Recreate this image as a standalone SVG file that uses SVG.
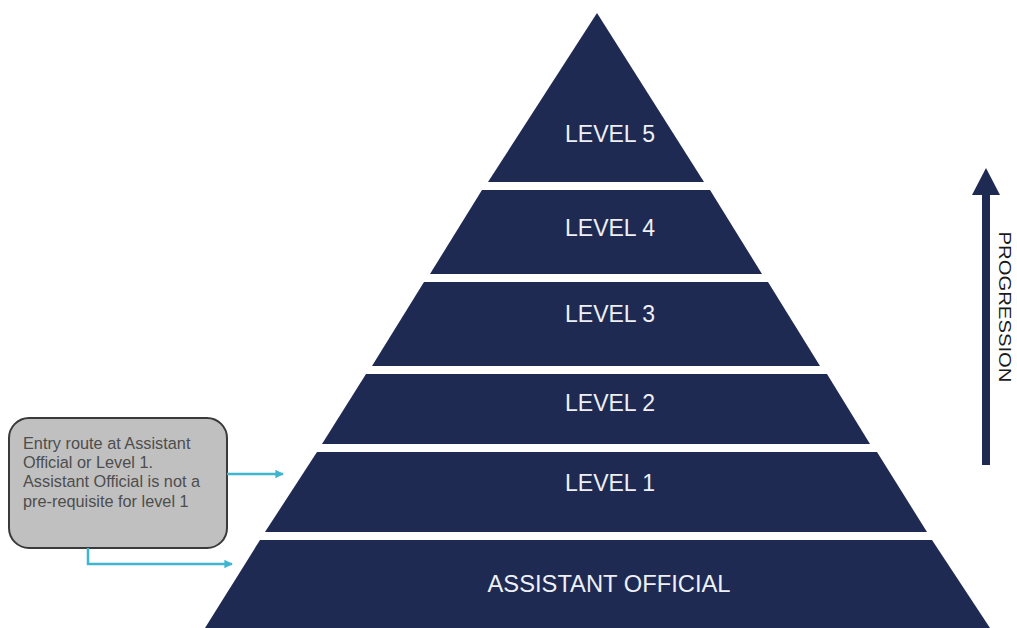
<svg xmlns="http://www.w3.org/2000/svg" width="1017" height="628" viewBox="0 0 1017 628">
  <defs>
    <style>
      .band { fill: #1f2a53; }
      .lbl { font-family: "Liberation Sans", Arial, sans-serif; font-size: 23px; fill: #eef0f5; text-anchor: middle; }
      .note { font-family: "Liberation Sans", Arial, sans-serif; font-size: 16.3px; fill: #4d4d4d; }
      .conn { fill: none; stroke: #3fb6cf; stroke-width: 2.5; }
    </style>
    <marker id="cyanHead" viewBox="0 0 10 10" refX="9" refY="5" markerWidth="3.4" markerHeight="3.4" orient="auto" markerUnits="strokeWidth">
      <path d="M0,0 L10,5 L0,10 Z" fill="#3fb6cf"/>
    </marker>
  </defs>
  <rect width="1017" height="628" fill="#ffffff"/>

  <g id="level5">
    <polygon class="band" points="597,13 704,182 488,182"/>
    <text class="lbl" x="610" y="141.5">LEVEL 5</text>
  </g>
  <g id="level4">
    <polygon class="band" points="482,190 710,190 762,274 430,274"/>
    <text class="lbl" x="610" y="235.5">LEVEL 4</text>
  </g>
  <g id="level3">
    <polygon class="band" points="424,282 768,282 820,366 372,366"/>
    <text class="lbl" x="610" y="321.5">LEVEL 3</text>
  </g>
  <g id="level2">
    <polygon class="band" points="366,374 827,374 870,444 322,444"/>
    <text class="lbl" x="610" y="410.5">LEVEL 2</text>
  </g>
  <g id="level1">
    <polygon class="band" points="317,452 877,452 927,532 265,532"/>
    <text class="lbl" x="610" y="490.5">LEVEL 1</text>
  </g>
  <g id="assistant-official">
    <polygon class="band" points="260,540 932,540 990,628 205,628"/>
    <text class="lbl" x="609" y="591.5" textLength="243" lengthAdjust="spacingAndGlyphs">ASSISTANT OFFICIAL</text>
  </g>

  <g id="note">
    <rect x="9" y="418" width="218" height="130" rx="20" ry="20" fill="#c0c0c0" stroke="#3a3a3a" stroke-width="2"/>
    <text class="note" x="23" y="449">Entry route at Assistant</text>
    <text class="note" x="23" y="468">Official or Level 1.</text>
    <text class="note" x="23" y="487">Assistant Official is not a</text>
    <text class="note" x="23" y="507">pre-requisite for level 1</text>
  </g>

  <g id="progression">
    <rect x="982" y="194" width="8" height="271" fill="#1f2a53"/>
    <polygon points="986,168 1000,195 972,195" fill="#1f2a53"/>
    <text transform="translate(999,307) rotate(90)" x="0" y="0" font-family="'Liberation Sans', Arial, sans-serif" font-size="16" fill="#1a1a1a" text-anchor="middle" textLength="151" lengthAdjust="spacingAndGlyphs">PROGRESSION</text>
  </g>

  <g id="connectors">
    <path class="conn" d="M227,474 L283,474" marker-end="url(#cyanHead)"/>
    <path class="conn" d="M88,548 L88,564 L232,564" marker-end="url(#cyanHead)"/>
  </g>
</svg>
